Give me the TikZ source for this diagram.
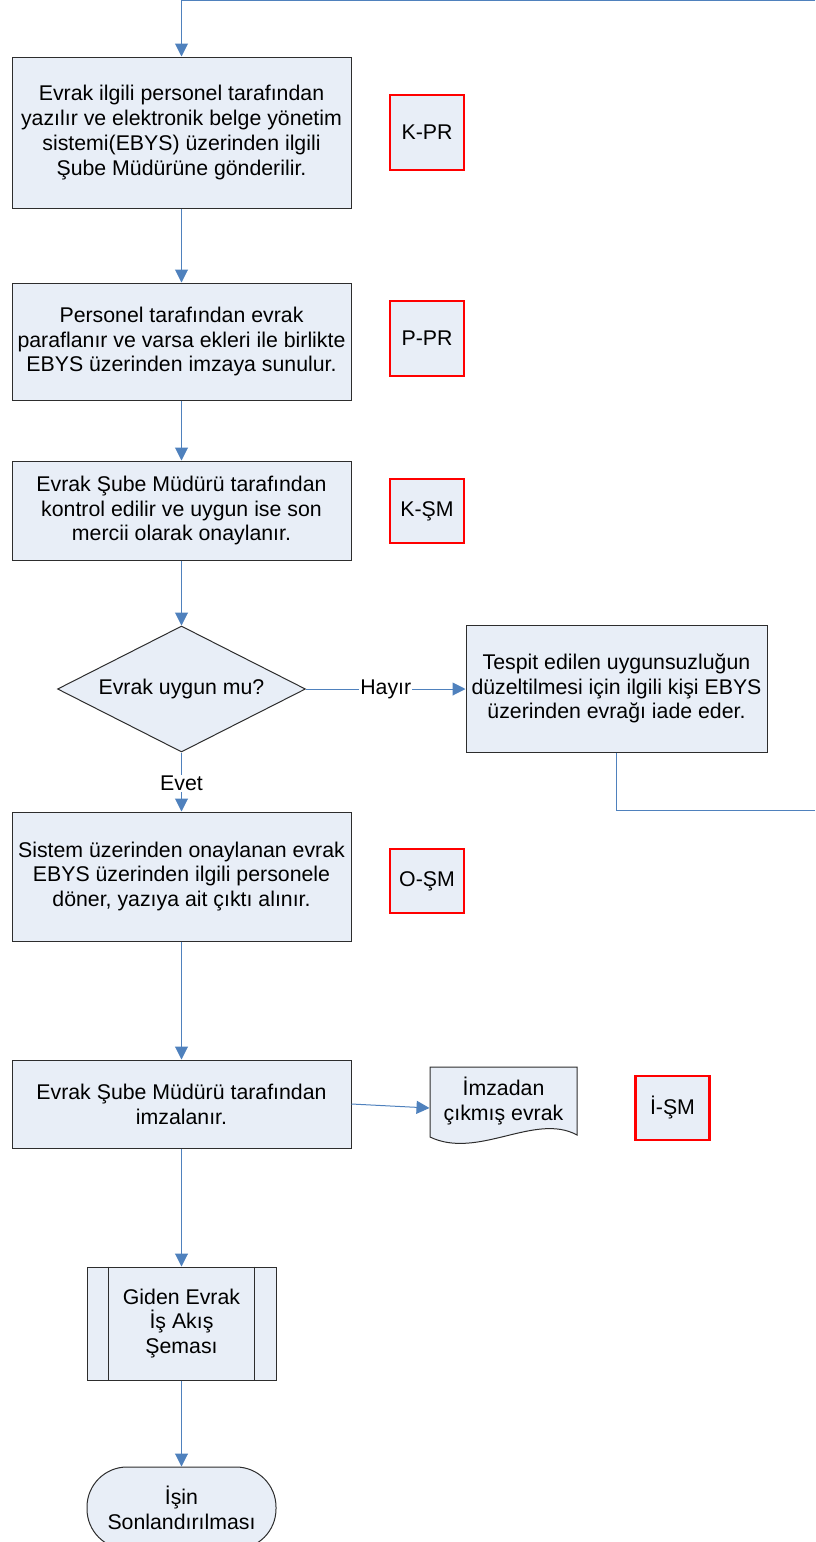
\documentclass[tikz,border=0pt]{standalone}
\usepackage{fontspec}
\setmainfont{Liberation Sans}
\usetikzlibrary{arrows.meta,shapes.geometric,calc,backgrounds}
\definecolor{boxfill}{RGB}{232,238,247}
\definecolor{linkblue}{RGB}{79,129,189}
\definecolor{edgegray}{RGB}{45,45,45}
\definecolor{codered}{RGB}{255,0,0}
\begin{document}
\begin{tikzpicture}[x=1pt,y=-1pt,
  base/.style={draw=edgegray,fill=boxfill,line width=1pt,font=\fontsize{21.3}{24.8}\selectfont,align=center,inner sep=0pt},
  proc/.style={base,rectangle,minimum width=339pt},
  codebox/.style={base,draw=codered,line width=2.8pt,minimum width=74pt},
  link/.style={draw=linkblue,line width=1pt,-{Triangle[width=13pt,length=13pt]}},
  plain/.style={draw=linkblue,line width=1pt},
  lbl/.style={fill=white,font=\fontsize{21.3}{24.8}\selectfont,inner sep=1pt}
]
\useasboundingbox (0,0) rectangle (815,1542);

% main process boxes
\node[proc,minimum height=151pt] (b1) at (181.5,132.5) {Evrak ilgili personel tarafından\\yazılır ve elektronik belge yönetim\\sistemi(EBYS) üzerinden ilgili\\Şube Müdürüne gönderilir.};
\node[codebox,minimum height=75pt] (kpr) at (427,132.5) {K-PR};

\node[proc,minimum height=117pt] (b2) at (181.5,341.5) {Personel tarafından evrak\\paraflanır ve varsa ekleri ile birlikte\\EBYS üzerinden imzaya sunulur.};
\node[codebox,minimum height=75pt] (ppr) at (427,338.5) {P-PR};

\node[proc,minimum height=99pt] (b3) at (181.5,510.5) {Evrak Şube Müdürü tarafından\\kontrol edilir ve uygun ise son\\mercii olarak onaylanır.};
\node[codebox,minimum height=64pt] (ksm) at (427,511) {K-ŞM};

\node[base,diamond,aspect=2,minimum width=248pt,minimum height=126pt] (dia) at (181.5,689) {Evrak uygun mu?};

\node[base,rectangle,minimum width=301pt,minimum height=127pt] (tespit) at (616.5,688.5) {Tespit edilen uygunsuzluğun\\düzeltilmesi için ilgili kişi EBYS\\üzerinden evrağı iade eder.};

\node[proc,minimum height=129pt] (b4) at (181.5,876.5) {Sistem üzerinden onaylanan evrak\\EBYS üzerinden ilgili personele\\döner, yazıya ait çıktı alınır.};
\node[codebox,minimum height=64pt] (osm) at (427,881) {O-ŞM};

\node[proc,minimum height=88pt] (b5) at (181.5,1104) {Evrak Şube Müdürü tarafından\\imzalanır.};

\node[base,draw=none,fill=none,minimum width=147pt,minimum height=70pt] (doc) at (503.5,1101) {İmzadan\\çıkmış evrak};
\begin{pgfonlayer}{background}
\draw[draw=edgegray,fill=boxfill,line width=1pt]
  (430,1067) -- (577,1067) -- (577,1135)
  .. controls (535,1112) and (478,1160) .. (430,1137) -- cycle;
\end{pgfonlayer}

\node[codebox,minimum height=64pt] (ism) at (672.5,1108) {İ-ŞM};

\node[base,rectangle,minimum width=189pt,minimum height=113pt] (sub) at (181.5,1323.5) {Giden Evrak\\İş Akış\\Şeması};
\draw[draw=edgegray,line width=1pt] ($(sub.north west)+(22,0)$) -- ($(sub.south west)+(22,0)$);
\draw[draw=edgegray,line width=1pt] ($(sub.north east)+(-22,0)$) -- ($(sub.south east)+(-22,0)$);

\node[base,rectangle,rounded corners=40pt,minimum width=189pt,minimum height=82pt] (term) at (181.5,1508) {İşin\\Sonlandırılması};

% connectors
\coordinate (topR) at (815,0.6);
\coordinate (topL) at (181.5,0.6);
\draw[link] (topR) -- (topL) -- (b1.north);
\draw[link] (b1) -- (b2);
\draw[link] (b2) -- (b3);
\draw[link] (b3) -- (dia);
\draw[link] (dia.east) -- node[lbl] {Hayır} (tespit.west |- dia.east);
\coordinate (retR) at (815,810);
\draw[plain] (tespit.south) |- (retR);
\draw[link] (dia.south) -- node[lbl,pos=0.52] {Evet} (b4.north);
\draw[link] (b4) -- (b5);
\draw[link] (b5.east) -- ($(doc.west)+(0,7)$);
\draw[link] (b5) -- (sub);
\draw[link] (sub) -- (term);
\end{tikzpicture}
\end{document}
